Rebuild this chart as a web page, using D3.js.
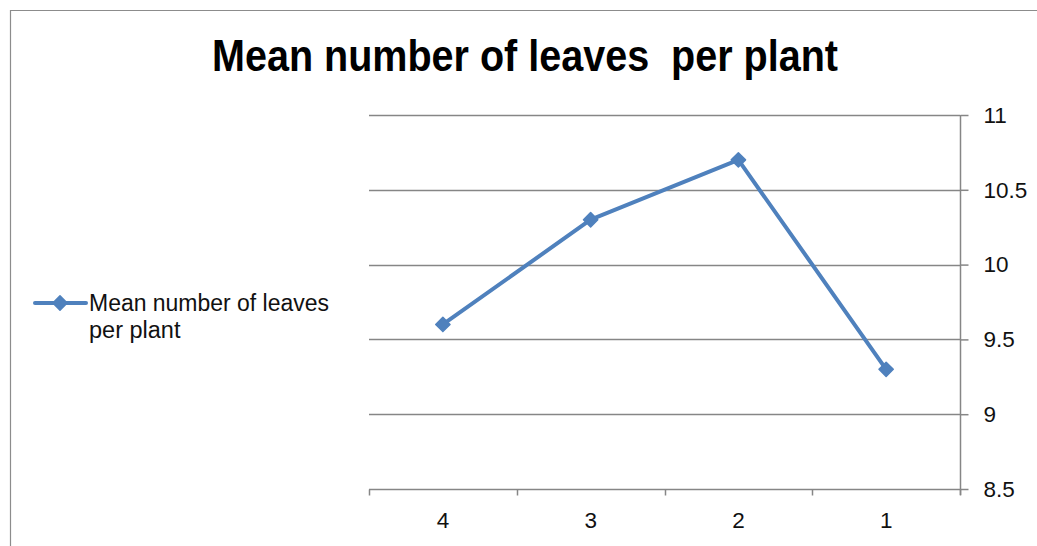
<!DOCTYPE html>
<html>
<head>
<meta charset="utf-8">
<script src="https://cdn.jsdelivr.net/npm/d3@7"></script>
<style>
  html, body { margin: 0; padding: 0; background: #fff; }
  svg { display: block; }
  text { font-family: "Liberation Sans", Arial, sans-serif; }
</style>
</head>
<body>
<svg id="chart" width="1037" height="546"></svg>
<script>
// Chart data
const categories = ["4", "3", "2", "1"];
const meanLeaves = [9.6, 10.3, 10.7, 9.3];
const yTicks = [8.5, 9, 9.5, 10, 10.5, 11];
const seriesName = "Mean number of leaves per plant";
const titleText = "Mean number of leaves  per plant";

const W = 1037, H = 546;
const plot = { left: 369, right: 960, top: 115, bottom: 489 };
const gridColor = "#868686";
const lineColor = "#4F81BD";

const svg = d3.select("#chart");

// Outer chart frame (only the top and left edges fall inside the view)
svg.append("path")
  .attr("d", `M10.5,${H} V10.5 H${W}`)
  .attr("fill", "none")
  .attr("stroke", "#8c8c8c")
  .attr("stroke-width", 1.2);

// Title
svg.append("text")
  .attr("x", 212)
  .attr("y", 71)
  .attr("font-size", 44)
  .attr("font-weight", "bold")
  .attr("fill", "#000")
  .style("white-space", "pre")
  .attr("textLength", 626)
  .attr("lengthAdjust", "spacingAndGlyphs")
  .text(titleText);

// Scales
const x = d3.scaleBand()
  .domain(categories)
  .range([plot.left, plot.right])
  .paddingInner(0)
  .paddingOuter(0);

const y = d3.scaleLinear()
  .domain([8.5, 11])
  .range([plot.bottom, plot.top]);

// Horizontal gridlines
svg.append("g")
  .selectAll("line")
  .data(yTicks.filter(v => v !== 8.5))
  .join("line")
  .attr("x1", plot.left)
  .attr("x2", plot.right)
  .attr("y1", d => Math.round(y(d)) + 0.5)
  .attr("y2", d => Math.round(y(d)) + 0.5)
  .attr("stroke", gridColor)
  .attr("stroke-width", 1.5);

// Right value axis
const yAxis = svg.append("g")
  .attr("transform", `translate(${plot.right + 0.5},0)`)
  .call(d3.axisRight(y)
    .tickValues(yTicks)
    .tickFormat(d => String(d))
    .tickSize(8)
    .tickSizeOuter(0)
    .tickPadding(15));
yAxis.select(".domain")
  .attr("d", `M0,${plot.top} V${plot.bottom + 6}`)
  .attr("stroke", gridColor)
  .attr("stroke-width", 1.5);
yAxis.selectAll(".tick line").attr("stroke", gridColor).attr("stroke-width", 1.5);
yAxis.selectAll(".tick text")
  .attr("fill", "#111")
  .attr("font-size", 22.5)
  .attr("font-family", "'Liberation Sans', Arial, sans-serif");

// Bottom category axis
const xAxis = svg.append("g")
  .attr("transform", `translate(0,${Math.round(plot.bottom) + 0.5})`)
  .call(d3.axisBottom(x).tickSize(0).tickSizeOuter(0).tickPadding(23));
xAxis.select(".domain")
  .attr("d", `M${plot.left},0 H${plot.right}`)
  .attr("stroke", gridColor)
  .attr("stroke-width", 1.5);
xAxis.selectAll(".tick text")
  .attr("fill", "#111")
  .attr("font-size", 22.5)
  .attr("font-family", "'Liberation Sans', Arial, sans-serif")
  .attr("dy", "0.71em");

// Category boundary tick marks
const boundaries = categories.map(c => x(c)).concat([x(categories[categories.length - 1]) + x.bandwidth()]);
xAxis.append("g")
  .selectAll("line")
  .data(boundaries)
  .join("line")
  .attr("x1", d => Math.round(d) + 0.5)
  .attr("x2", d => Math.round(d) + 0.5)
  .attr("y1", 0)
  .attr("y2", 6)
  .attr("stroke", gridColor)
  .attr("stroke-width", 1.5);

// Series line
const points = categories.map((c, i) => ({ c, v: meanLeaves[i] }));
const line = d3.line()
  .x(d => x(d.c) + x.bandwidth() / 2)
  .y(d => y(d.v));

svg.append("path")
  .datum(points)
  .attr("d", line)
  .attr("fill", "none")
  .attr("stroke", lineColor)
  .attr("stroke-width", 4)
  .attr("stroke-linejoin", "round")
  .attr("stroke-linecap", "round");

// Diamond markers
const diamond = d3.symbol().type(d3.symbolDiamond2).size(130);
svg.append("g")
  .selectAll("path")
  .data(points)
  .join("path")
  .attr("d", diamond)
  .attr("transform", d => `translate(${x(d.c) + x.bandwidth() / 2},${y(d.v)})`)
  .attr("fill", lineColor)
  .attr("stroke", lineColor)
  .attr("stroke-width", 1.5)
  .attr("stroke-linejoin", "round");

// Legend
const legend = svg.append("g");
legend.append("line")
  .attr("x1", 35).attr("x2", 86)
  .attr("y1", 303).attr("y2", 303)
  .attr("stroke", lineColor)
  .attr("stroke-width", 4)
  .attr("stroke-linecap", "round");
legend.append("path")
  .attr("d", diamond)
  .attr("transform", "translate(60,303)")
  .attr("fill", lineColor)
  .attr("stroke", lineColor)
  .attr("stroke-width", 1.5)
  .attr("stroke-linejoin", "round");
const legendText = legend.append("text")
  .attr("x", 89)
  .attr("y", 311)
  .attr("font-size", 23.5)
  .attr("fill", "#111");
legendText.append("tspan").attr("x", 89).attr("textLength", 240).attr("lengthAdjust", "spacingAndGlyphs").text("Mean number of leaves");
legendText.append("tspan").attr("x", 89).attr("dy", 27).text("per plant");
</script>
</body>
</html>
